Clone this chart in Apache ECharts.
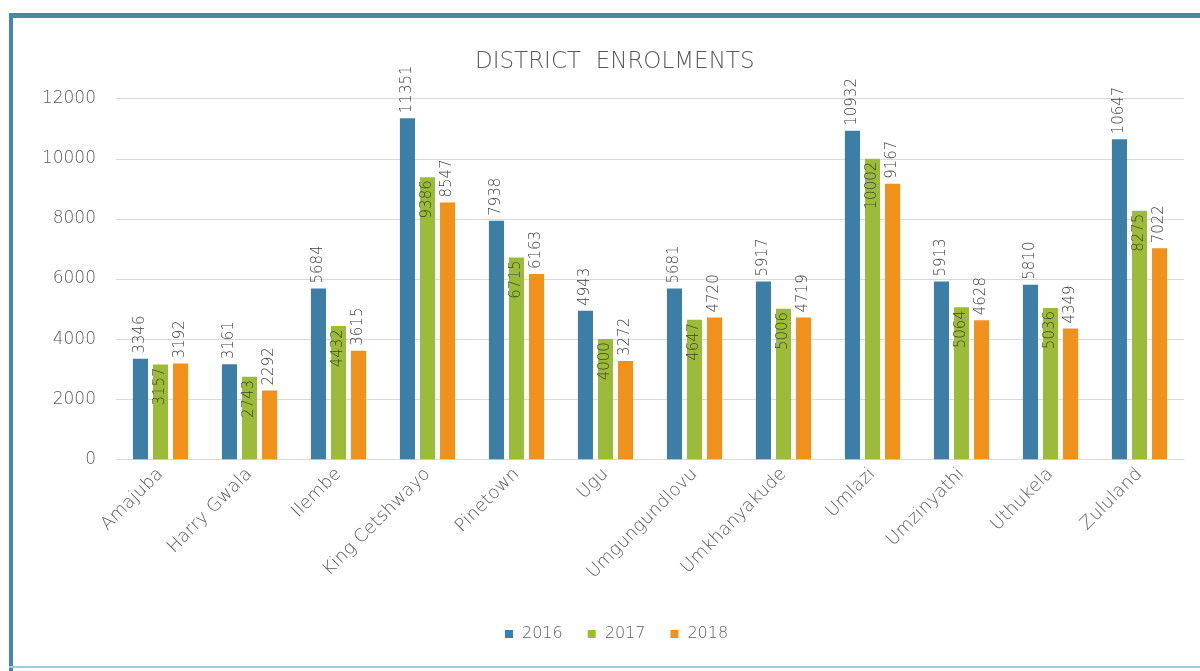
<!DOCTYPE html>
<html>
<head>
<meta charset="utf-8">
<script src="https://cdn.jsdelivr.net/npm/echarts@6/dist/echarts.min.js"></script>
<style>
  html, body { margin: 0; padding: 0; background: #ffffff; }
  #chart { width: 1200px; height: 671px; }
</style>
</head>
<body>
<div id="chart"></div>
<script>
// District enrolment counts per year
const districts = ['Amajuba', 'Harry Gwala', 'Ilembe', 'King Cetshwayo', 'Pinetown', 'Ugu',
  'Umgungundlovu', 'Umkhanyakude', 'Umlazi', 'Umzinyathi', 'Uthukela', 'Zululand'];
const years = ['2016', '2017', '2018'];
const enrol2016 = [3346, 3161, 5684, 11351, 7938, 4943, 5681, 5917, 10932, 5913, 5810, 10647];
const enrol2017 = [3157, 2743, 4432, 9386, 6715, 4000, 4647, 5006, 10002, 5064, 5036, 8275];
const enrol2018 = [3192, 2292, 3615, 8547, 6163, 3272, 4720, 4719, 9167, 4628, 4349, 7022];
const yTicks = [0, 2000, 4000, 6000, 8000, 10000, 12000];

const FONT = '"DejaVu Sans", sans-serif';
const W = 200; // thin weight
const colors = ['#3d7ea6', '#9cbb3b', '#f0911c'];

const outsideLabel = {
  show: true, position: 'top', distance: 5, rotate: 90,
  align: 'left', verticalAlign: 'middle',
  fontFamily: FONT, fontWeight: W, fontSize: 15, color: '#404040'
};
const insideLabel = {
  show: true, position: 'insideTop', distance: 3, rotate: 90,
  align: 'right', verticalAlign: 'middle',
  fontFamily: FONT, fontWeight: W, fontSize: 15, color: '#3c4a1a'
};

const chart = echarts.init(document.getElementById('chart'));
chart.setOption({
  backgroundColor: '#ffffff',
  animation: false,
  color: colors,
  graphic: [
    // frame around the chart area
    { type: 'rect', left: 9, top: 13, shape: { width: 1191, height: 5 }, style: { fill: '#4a86aa' } },
    { type: 'rect', left: 9, top: 13, shape: { width: 4, height: 658 }, style: { fill: '#4a86aa' } },
    { type: 'rect', left: 9, top: 666, shape: { width: 1191, height: 2 }, style: { fill: '#9fcbe0' } }
  ],
  title: {
    text: 'DISTRICT  ENROLMENTS',
    left: 470, top: 46,
    textStyle: { fontFamily: FONT, fontSize: 23, fontWeight: W, color: '#595959' }
  },
  legend: {
    data: years,
    left: 500, top: 621,
    itemWidth: 8, itemHeight: 8, itemGap: 25,
    icon: 'rect',
    textStyle: { fontFamily: FONT, fontWeight: W, fontSize: 16, color: '#595959', padding: [0, 0, 0, 4] }
  },
  grid: { left: 116, right: 16, top: 98.7, bottom: 211.7, containLabel: false },
  xAxis: {
    type: 'category',
    data: districts,
    axisTick: { show: false },
    axisLine: { lineStyle: { color: '#d9d9d9' } },
    axisLabel: {
      rotate: 45, margin: 12, interval: 0,
      fontFamily: FONT, fontWeight: W, fontSize: 18, color: '#595959'
    }
  },
  yAxis: {
    type: 'value',
    min: yTicks[0], max: yTicks[yTicks.length - 1], interval: 2000,
    axisLine: { show: false },
    axisTick: { show: false },
    splitLine: { lineStyle: { color: '#d9d9d9' } },
    axisLabel: {
      margin: 20, fontFamily: FONT, fontWeight: W, fontSize: 17, color: '#595959',
      formatter: v => String(v)
    }
  },
  series: [
    { name: years[0], type: 'bar', data: enrol2016, barGap: '33%', barCategoryGap: '38%', label: outsideLabel },
    { name: years[1], type: 'bar', data: enrol2017, label: insideLabel },
    { name: years[2], type: 'bar', data: enrol2018, label: outsideLabel }
  ]
});
</script>
</body>
</html>
